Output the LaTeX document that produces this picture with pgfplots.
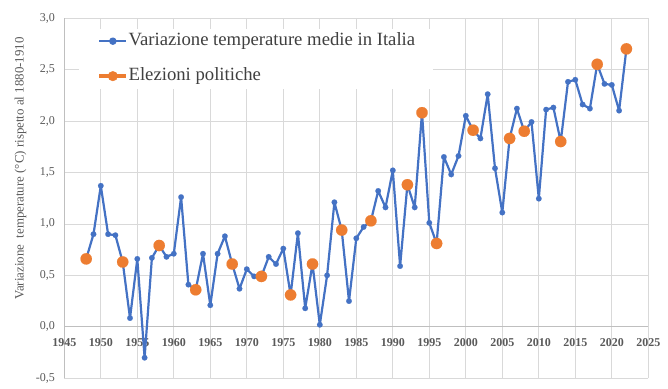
\documentclass[border=0pt]{standalone}
\usepackage{pgfplots}
\usepackage{pgfplotstable}
\pgfplotsset{compat=1.18}
\usepackage{fontspec}
\setmainfont{Liberation Serif}
\definecolor{xlblue}{HTML}{4472C4}
\definecolor{xlorange}{HTML}{ED7D31}
\definecolor{gridc}{HTML}{D9D9D9}
\definecolor{axc}{HTML}{BFBFBF}
\definecolor{txt}{HTML}{595959}
\definecolor{legtxt}{HTML}{404040}

\pgfplotstableread{
year val
1948 0.66
1949 0.90
1950 1.37
1951 0.90
1952 0.89
1953 0.63
1954 0.085
1955 0.66
1956 -0.30
1957 0.67
1958 0.79
1959 0.68
1960 0.71
1961 1.26
1962 0.41
1963 0.36
1964 0.71
1965 0.21
1966 0.71
1967 0.88
1968 0.61
1969 0.37
1970 0.56
1971 0.49
1972 0.49
1973 0.68
1974 0.61
1975 0.76
1976 0.31
1977 0.91
1978 0.18
1979 0.61
1980 0.02
1981 0.50
1982 1.21
1983 0.94
1984 0.25
1985 0.86
1986 0.97
1987 1.03
1988 1.32
1989 1.16
1990 1.52
1991 0.59
1992 1.38
1993 1.16
1994 2.08
1995 1.01
1996 0.81
1997 1.65
1998 1.48
1999 1.66
2000 2.05
2001 1.91
2002 1.83
2003 2.26
2004 1.54
2005 1.11
2006 1.83
2007 2.12
2008 1.90
2009 1.99
2010 1.245
2011 2.11
2012 2.13
2013 1.80
2014 2.38
2015 2.40
2016 2.16
2017 2.12
2018 2.55
2019 2.36
2020 2.35
2021 2.10
2022 2.70
}\temps

\pgfplotstableread{
year val
1948 0.66
1953 0.63
1958 0.79
1963 0.36
1968 0.61
1972 0.49
1976 0.31
1979 0.61
1983 0.94
1987 1.03
1992 1.38
1994 2.08
1996 0.81
2001 1.91
2006 1.83
2008 1.90
2013 1.80
2018 2.55
2022 2.70
}\elez

\begin{document}
\begin{tikzpicture}
\path[use as bounding box] (0pt,0pt) rectangle (668pt,388pt);
\begin{axis}[
  at={(64.3pt,9.7pt)}, anchor=south west,
  scale only axis, width=584pt, height=360.3pt,
  xmin=1945, xmax=2025, ymin=-0.5, ymax=3,
  xtick={1945,1950,...,2025},
  ytick={-0.5,0,0.5,1,1.5,2,2.5,3},
  axis x line=middle, axis y line=left,
  axis line style={-, draw=axc, line width=0.75pt},
  grid=major, grid style={draw=gridc, line width=0.75pt},
  major tick length=0pt,
  hide obscured x ticks=false, hide obscured y ticks=false,
  /pgf/number format/assume math mode=true,
  xticklabel style={font=\fontsize{12}{14}\selectfont\bfseries, text=txt, /pgf/number format/1000 sep={}, yshift=-8pt},
  yticklabel style={font=\fontsize{12}{14}\selectfont, text=txt, xshift=-6pt, /pgf/number format/.cd, fixed, fixed zerofill, precision=1, use comma},
  ylabel={Variazione\ \ temperature (°C) rispetto al 1880-1910},
  ylabel style={at={(rel axis cs:0,0.582)}, anchor=center, yshift=43.8pt, font=\fontsize{12.9}{14}\selectfont, text=txt},
  legend style={at={(rel axis cs:0.025,0.971)}, anchor=north west, draw=none, fill=white,
    inner xsep=18pt, inner ysep=4pt, font=\fontsize{18.7}{20}\selectfont, text=legtxt,
    row sep=18pt, column sep=0pt, nodes={inner sep=0pt, text height=13pt, text depth=4pt}},
  legend cell align=left,
]
\addplot[xlblue, line width=2.2pt, line join=round, mark=*, mark size=2.8pt, mark options={solid, fill=xlblue, draw=xlblue, line width=0.1pt},
  legend image code/.code={\draw[xlblue, line width=2.2pt] (0pt,0pt) -- (27pt,0pt); \fill[xlblue] (13.5pt,0pt) circle (2.6pt);}]
  table[x=year, y=val]{\temps};
\addlegendentry{Variazione temperature medie in Italia}
\addplot[xlorange, only marks, mark=*, mark size=5.7pt, mark options={solid, fill=xlorange, draw=xlorange, line width=0.1pt},
  legend image code/.code={\draw[xlorange, line width=4.5pt] (0pt,0pt) -- (27pt,0pt); \fill[xlorange] (13.5pt,0pt) circle (4.8pt);}]
  table[x=year, y=val]{\elez};
\addlegendentry{Elezioni politiche}
\end{axis}
\end{tikzpicture}
\end{document}
